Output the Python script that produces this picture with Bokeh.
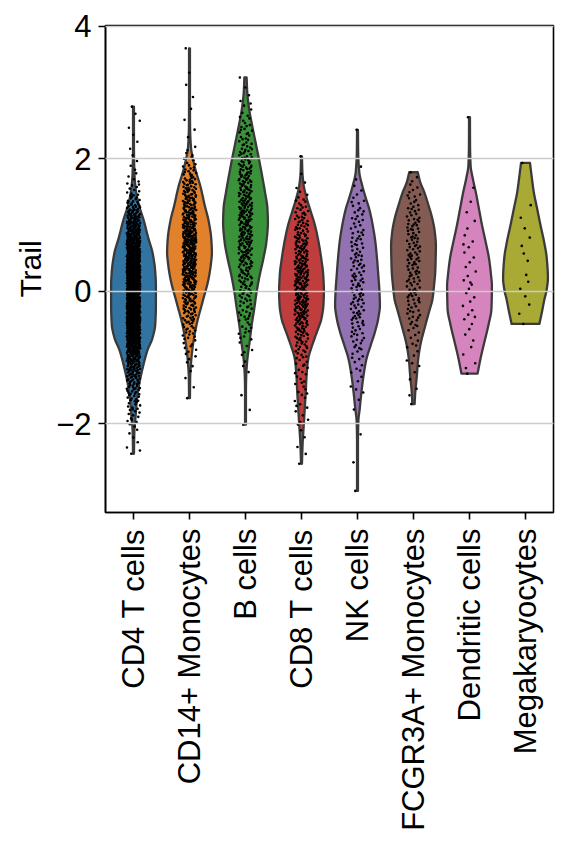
import math
import numpy as np
from bokeh.plotting import figure
from bokeh.models import Range1d, FixedTicker, ColumnDataSource
from bokeh.embed import file_html
from bokeh.resources import INLINE

# Cell types, number of cells and fill colours
categories = ["CD4 T cells", "CD14+ Monocytes", "B cells", "CD8 T cells",
              "NK cells", "FCGR3A+ Monocytes", "Dendritic cells", "Megakaryocytes"]
cell_counts = [1144, 480, 342, 316, 154, 150, 37, 15]
colors = ["#3274a1", "#e1812c", "#3a923a", "#c03d3e",
          "#9372b2", "#845b53", "#d684bd", "#a9aa35"]

# Violin outlines: expression level of Trail and relative density (1 = widest)
cd4_level = [-2.45, -2.1, -1.9, -1.64, -1.39, -1.14, -0.89, -0.7, -0.5, -0.2, 0.1, 0.3,
             0.57, 0.82, 1.07, 1.33, 1.57, 1.8, 2.2, 2.79]
cd4_density = [0.02, 0.04, 0.09, 0.15, 0.26, 0.42, 0.62, 0.85, 0.97, 1.0, 1.0, 0.97,
               0.86, 0.65, 0.46, 0.22, 0.09, 0.04, 0.02, 0.02]

cd14_level = [-1.61, -1.3, -1.07, -0.82, -0.51, -0.16, 0.19, 0.4, 0.59, 0.8, 1.07, 1.3,
              1.57, 1.9, 2.2, 2.5, 3.0, 3.67]
cd14_density = [0.02, 0.03, 0.07, 0.15, 0.31, 0.58, 0.85, 0.95, 1.0, 0.97, 0.85, 0.68,
                0.5, 0.22, 0.06, 0.025, 0.02, 0.02]

b_level = [-2.01, -1.5, -1.3, -1.07, -0.77, -0.5, -0.26, 0.0, 0.24, 0.5, 0.74, 1.04,
           1.25, 1.5, 1.75, 2.0, 2.25, 2.5, 2.76, 3.0, 3.23]
b_density = [0.02, 0.02, 0.03, 0.07, 0.18, 0.28, 0.39, 0.5, 0.63, 0.8, 0.93, 1.0,
             0.98, 0.87, 0.74, 0.6, 0.45, 0.3, 0.16, 0.08, 0.05]

cd8_level = [-2.6, -2.3, -2.02, -1.8, -1.52, -1.25, -1.02, -0.77, -0.6, -0.41, -0.2, 0.0,
             0.25, 0.5, 0.75, 1.0, 1.2, 1.4, 1.6, 1.8, 2.04]
cd8_density = [0.02, 0.05, 0.1, 0.14, 0.19, 0.23, 0.3, 0.52, 0.7, 0.89, 0.98, 1.0,
               0.97, 0.88, 0.76, 0.6, 0.42, 0.24, 0.1, 0.04, 0.02]

nk_level = [-3.01, -2.3, -1.95, -1.77, -1.6, -1.42, -1.2, -1.02, -0.8, -0.61, -0.4, -0.21,
            0.0, 0.24, 0.5, 0.74, 1.0, 1.25, 1.4, 1.6, 1.8, 2.1, 2.44]
nk_density = [0.02, 0.02, 0.04, 0.1, 0.15, 0.21, 0.3, 0.4, 0.6, 0.78, 0.93, 1.0,
              0.98, 0.93, 0.87, 0.8, 0.68, 0.52, 0.38, 0.21, 0.08, 0.03, 0.02]

fcgr_level = [-1.7, -1.52, -1.27, -1.05, -0.82, -0.51, -0.3, -0.11, 0.1, 0.29, 0.5, 0.69,
              0.9, 1.1, 1.3, 1.5, 1.65, 1.8]
fcgr_density = [0.05, 0.08, 0.15, 0.2, 0.3, 0.53, 0.7, 0.85, 0.92, 0.97, 0.99, 1.0,
                0.95, 0.84, 0.67, 0.48, 0.3, 0.19]

dc_level = [-1.24, -1.0, -0.77, -0.5, -0.26, 0.09, 0.25, 0.5, 0.75, 1.0, 1.25, 1.5,
            1.7, 1.9, 2.2, 2.63]
dc_density = [0.36, 0.5, 0.66, 0.85, 0.98, 1.0, 0.96, 0.87, 0.72, 0.56, 0.42, 0.28,
              0.15, 0.05, 0.025, 0.02]

mega_level = [-0.49, -0.3, -0.11, 0.0, 0.2, 0.5, 0.75, 1.0, 1.25, 1.5, 1.75, 1.94]
mega_density = [0.62, 0.74, 0.85, 0.93, 1.0, 0.95, 0.83, 0.67, 0.52, 0.37, 0.27, 0.2]

levels = [cd4_level, cd14_level, b_level, cd8_level, nk_level, fcgr_level, dc_level, mega_level]
densities = [cd4_density, cd14_density, b_density, cd8_density, nk_density, fcgr_density,
             dc_density, mega_density]

y_ticks = [-2, 0, 2, 4]
y_tick_labels = ["\u22122", "0", "2", "4"]

HALF_WIDTH = 0.4   # half of the violin width, in category units
JITTER = 0.12      # half range of the strip jitter
FONT = "Liberation Sans"
TICK_FONT_SIZE = "31px"
LABEL_FONT_SIZE = "30px"


def pchip(xk, yk, xs):
    """Shape-preserving cubic through the outline points."""
    xk = np.asarray(xk, float)
    yk = np.asarray(yk, float)
    h = np.diff(xk)
    d = np.diff(yk) / h
    n = len(xk)
    m = np.zeros(n)
    m[0], m[-1] = d[0], d[-1]
    for k in range(1, n - 1):
        if d[k - 1] * d[k] <= 0:
            m[k] = 0.0
        else:
            w1 = 2 * h[k] + h[k - 1]
            w2 = h[k] + 2 * h[k - 1]
            m[k] = (w1 + w2) / (w1 / d[k - 1] + w2 / d[k])
    idx = np.clip(np.searchsorted(xk, xs) - 1, 0, n - 2)
    t = (xs - xk[idx]) / h[idx]
    h00 = 2 * t**3 - 3 * t**2 + 1
    h10 = t**3 - 2 * t**2 + t
    h01 = -2 * t**3 + 3 * t**2
    h11 = t**3 - t**2
    return h00 * yk[idx] + h10 * h[idx] * m[idx] + h01 * yk[idx + 1] + h11 * h[idx] * m[idx + 1]


def van_der_corput(i, base):
    """Low-discrepancy fraction used to spread the cells evenly."""
    f, r = 1.0, 0.0
    while i > 0:
        f /= base
        r += f * (i % base)
        i //= base
    return r


p = figure(width=570, height=847, output_backend="svg", toolbar_location=None,
           x_range=Range1d(0, 8), y_range=Range1d(-3.336, 4.015),
           min_border_left=105, min_border_right=17, min_border_top=25, min_border_bottom=335)

for i, (lv, dn, n, col) in enumerate(zip(levels, densities, cell_counts, colors)):
    center = i + 0.5
    grid_y = np.linspace(lv[0], lv[-1], 600)
    dens = np.clip(pchip(lv, dn, grid_y), 0.018, None)

    xs = np.concatenate([center + dens * HALF_WIDTH, (center - dens * HALF_WIDTH)[::-1]])
    ys = np.concatenate([grid_y, grid_y[::-1]])
    p.patch(x="x", y="y", source=ColumnDataSource(dict(x=xs, y=ys)),
            fill_color=col, line_color="#3a3a3a", line_width=2.3, line_join="round")

    # cells placed along the distribution given by the outline
    cdf = np.concatenate([[0], np.cumsum((dens[1:] + dens[:-1]) / 2 * np.diff(grid_y))])
    cdf /= cdf[-1]
    u = np.array([van_der_corput(k, 2) for k in range(n - 1)] + [1.0])
    v = np.array([van_der_corput(k + 1, 3) for k in range(n)])
    py = np.interp(u, cdf, grid_y)
    px = center + (v - 0.5) * 2 * JITTER
    p.scatter(x="x", y="y", source=ColumnDataSource(dict(x=px, y=py)),
              size=2.6, fill_color="black", line_color=None)

# axes
p.xaxis.ticker = FixedTicker(ticks=[i + 0.5 for i in range(len(categories))])
p.xaxis.major_label_overrides = {i + 0.5: c for i, c in enumerate(categories)}
p.xaxis.major_label_orientation = math.pi / 2
p.yaxis.ticker = FixedTicker(ticks=y_ticks)
p.yaxis.major_label_overrides = {t: s for t, s in zip(y_ticks, y_tick_labels)}
p.yaxis.axis_label = "Trail"

for ax in (p.xaxis[0], p.yaxis[0]):
    ax.major_label_text_font = FONT
    ax.major_label_text_font_size = TICK_FONT_SIZE
    ax.major_label_text_color = "black"
    ax.axis_label_text_font = FONT
    ax.axis_label_text_font_size = LABEL_FONT_SIZE
    ax.axis_label_text_font_style = "normal"
    ax.axis_label_text_color = "black"
    ax.axis_line_color = "black"
    ax.axis_line_width = 1.6
    ax.major_tick_line_color = "black"
    ax.major_tick_line_width = 1.6
    ax.major_tick_out = 7
    ax.major_tick_in = 0
    ax.minor_tick_line_color = None
    ax.major_label_standoff = 7
p.yaxis.axis_label_standoff = 6
p.xaxis.major_label_standoff = 9

p.xgrid.visible = False
p.ygrid.grid_line_color = "#cccccc"
p.ygrid.grid_line_width = 1.6
p.ygrid.level = "guide"

p.outline_line_color = "black"
p.outline_line_width = 1.6
p.background_fill_color = "white"
p.border_fill_color = "white"

open("out.html", "w").write(file_html(p, INLINE))
